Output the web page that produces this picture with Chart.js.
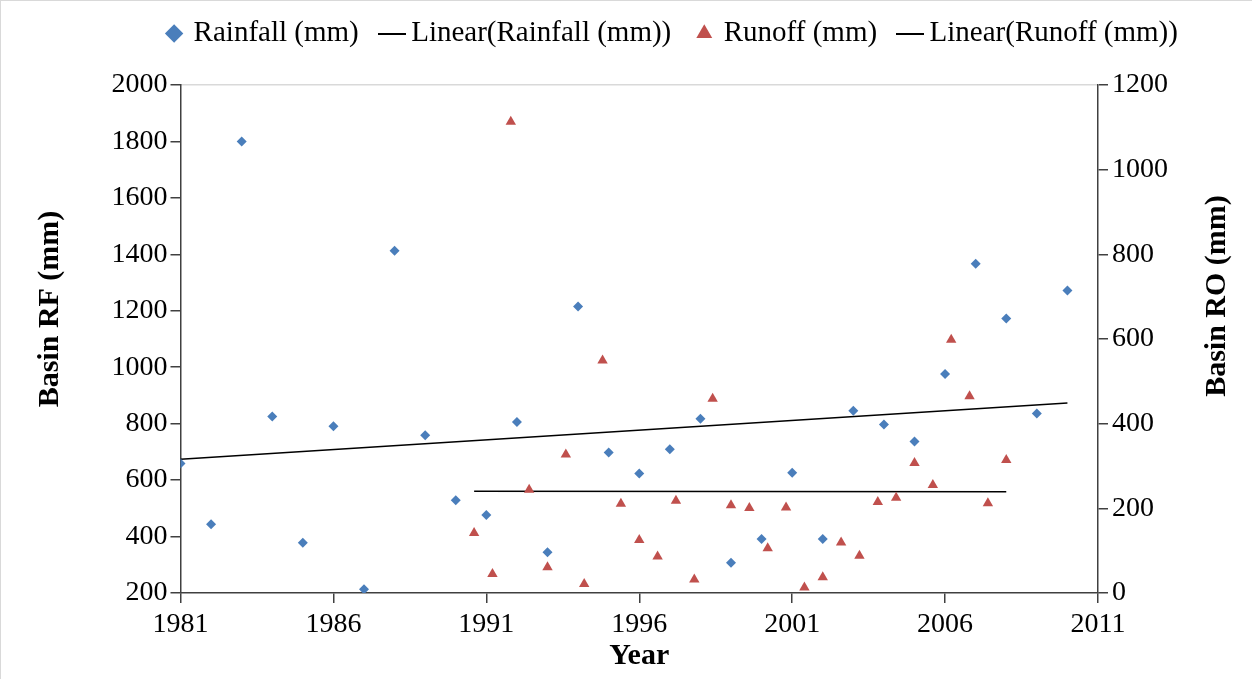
<!DOCTYPE html>
<html>
<head>
<meta charset="utf-8">
<script src="https://cdn.jsdelivr.net/npm/chart.js@4.4.1/dist/chart.umd.min.js"></script>
<style>
  html, body { margin: 0; padding: 0; background: #fff; }
  #wrap { width: 1252px; height: 679px; box-sizing: border-box; border-top: 1px solid #d9d9d9; border-left: 1px solid #d9d9d9; }
  canvas { display: block; }
</style>
</head>
<body>
<div id="wrap"><canvas id="rfChart"></canvas></div>
<script>
const years = [1981, 1982, 1983, 1984, 1985, 1986, 1987, 1988, 1989, 1990,
               1991, 1992, 1993, 1994, 1995, 1996, 1997, 1998, 1999, 2000,
               2001, 2002, 2003, 2004, 2005, 2006, 2007, 2008, 2009, 2010];
const rainfall = [659, 444, 1800, 825, 378, 791, 213, 1413, 759, 529,
                  476, 806, 344, 1215, 698, 623, 709, 817, 307, 391,
                  626, 391, 846, 797, 737, 976, 1367, 1173, 836, 1272];

const runoffYears = [1990.6, 1991.2, 1991.8, 1992.4, 1993.0, 1993.6, 1994.2, 1994.8, 1995.4, 1996.0,
                     1996.6, 1997.2, 1997.8, 1998.4, 1999.0, 1999.6, 2000.2, 2000.8, 2001.4, 2002.0,
                     2002.6, 2003.2, 2003.8, 2004.4, 2005.0, 2005.6, 2006.2, 2006.8, 2007.4, 2008.0];
const runoff = [142, 45, 1113, 244, 61, 327, 21, 549, 211, 125,
                86, 218, 32, 459, 207, 201, 106, 202, 13, 37,
                119, 88, 215, 225, 307, 255, 598, 465, 212, 314];

const xTicks  = [1981, 1986, 1991, 1996, 2001, 2006, 2011];
const rfTicks = [200, 400, 600, 800, 1000, 1200, 1400, 1600, 1800, 2000];
const roTicks = [0, 200, 400, 600, 800, 1000, 1200];

const FONT = "'Liberation Serif', 'Times New Roman', serif";
const AXIS = '#404040';

// least squares line over the x range of the series (what Excel's "Linear" trendline shows)
function linearFit(xs, ys) {
  const n = xs.length;
  const mx = xs.reduce((s, v) => s + v, 0) / n;
  const my = ys.reduce((s, v) => s + v, 0) / n;
  let sxy = 0, sxx = 0;
  xs.forEach((x, i) => { sxy += (x - mx) * (ys[i] - my); sxx += (x - mx) * (x - mx); });
  const b = sxy / sxx;
  const a = my - b * mx;
  const x0 = Math.min(...xs), x1 = Math.max(...xs);
  return [{ x: x0, y: a + b * x0 }, { x: x1, y: a + b * x1 }];
}

function legendLine() {
  const c = document.createElement('canvas');
  c.width = 28; c.height = 2;
  const g = c.getContext('2d');
  g.fillStyle = '#000';
  g.fillRect(0, 0, 28, 2);
  return c;
}

const toPoints = (xs, ys) => xs.map((x, i) => ({ x, y: ys[i] }));
const fixTicks = list => scale => { scale.ticks = list.map(v => ({ value: v })); };

const sideTitles = {
  id: 'sideTitles',
  afterDraw(chart) {
    const ctx = chart.ctx;
    ctx.save();
    ctx.font = 'bold 30px ' + FONT;
    ctx.fillStyle = '#000';
    ctx.textAlign = 'center';
    ctx.textBaseline = 'middle';
    [['Basin RF (mm)', 49, 308], ['Basin RO (mm)', 1216, 295]].forEach(([t, x, y]) => {
      ctx.save();
      ctx.translate(x, y);
      ctx.rotate(-Math.PI / 2);
      ctx.fillText(t, 0, 0);
      ctx.restore();
    });
    ctx.restore();
  }
};

const lineGlyph = legendLine();

new Chart(document.getElementById('rfChart'), {
  type: 'scatter',
  data: {
    datasets: [
      {
        label: 'Rainfall (mm)',
        data: toPoints(years, rainfall),
        yAxisID: 'y',
        pointStyle: 'rectRot',
        pointRadius: 5,
        backgroundColor: '#4a7ebb',
        borderColor: '#4a7ebb',
        borderWidth: 0
      },
      {
        label: 'Linear(Rainfall (mm))',
        data: linearFit(years, rainfall),
        yAxisID: 'y',
        showLine: true,
        pointRadius: 0,
        pointStyle: lineGlyph,
        borderColor: '#000',
        backgroundColor: '#000',
        borderWidth: 1.5
      },
      {
        label: 'Runoff (mm)',
        data: toPoints(runoffYears, runoff),
        yAxisID: 'y1',
        pointStyle: 'triangle',
        pointRadius: 6,
        backgroundColor: '#c0504d',
        borderColor: '#c0504d',
        borderWidth: 0
      },
      {
        label: 'Linear(Runoff (mm))',
        data: linearFit(runoffYears, runoff),
        yAxisID: 'y1',
        showLine: true,
        pointRadius: 0,
        pointStyle: lineGlyph,
        borderColor: '#000',
        backgroundColor: '#000',
        borderWidth: 1.5
      }
    ]
  },
  options: {
    responsive: true,
    maintainAspectRatio: false,
    animation: false,
    events: [],
    layout: { padding: { left: 94, right: 0, top: -10, bottom: 0 } },
    plugins: {
      tooltip: { enabled: false },
      legend: {
        position: 'top',
        labels: {
          usePointStyle: true,
          boxWidth: 10,
          boxHeight: 13,
          padding: 28,
          color: '#000',
          font: { family: FONT, size: 29 }
        }
      }
    },
    scales: {
      x: {
        type: 'linear',
        position: 'bottom',
        min: 1981,
        max: 2011,
        afterBuildTicks: fixTicks(xTicks),
        afterFit: s => { s.height = 86; },
        ticks: { color: '#000', font: { family: FONT, size: 28 }, padding: 5, maxRotation: 0, autoSkip: false, callback: v => String(v) },
        grid: { drawOnChartArea: false, tickLength: 10, color: AXIS, lineWidth: 1.5 },
        border: { color: AXIS, width: 1.5 },
        title: { display: true, text: 'Year', color: '#000', font: { family: FONT, size: 30, weight: 'bold' }, padding: { top: 0, bottom: 5 } }
      },
      xTop: {
        type: 'linear',
        position: 'top',
        min: 1981,
        max: 2011,
        afterFit: s => { s.height = 27; },
        ticks: { display: false },
        grid: { drawOnChartArea: false, drawTicks: false },
        border: { color: '#d9d9d9', width: 1.5 }
      },
      y: {
        type: 'linear',
        position: 'left',
        min: 200,
        max: 2000,
        afterBuildTicks: fixTicks(rfTicks),
        afterFit: s => { s.width = 85.5; },
        ticks: { color: '#000', font: { family: FONT, size: 28 }, padding: 3, callback: v => String(v) },
        grid: { drawOnChartArea: false, tickLength: 10, color: AXIS, lineWidth: 1.5 },
        border: { color: AXIS, width: 1.5 }
      },
      y1: {
        type: 'linear',
        position: 'right',
        min: 0,
        max: 1200,
        afterBuildTicks: fixTicks(roTicks),
        afterFit: s => { s.width = 154; },
        ticks: { color: '#000', font: { family: FONT, size: 28 }, padding: 4, callback: v => String(v) },
        grid: { drawOnChartArea: false, tickLength: 10, color: AXIS, lineWidth: 1.5 },
        border: { color: AXIS, width: 1.5 }
      }
    }
  },
  plugins: [sideTitles]
});
</script>
</body>
</html>
